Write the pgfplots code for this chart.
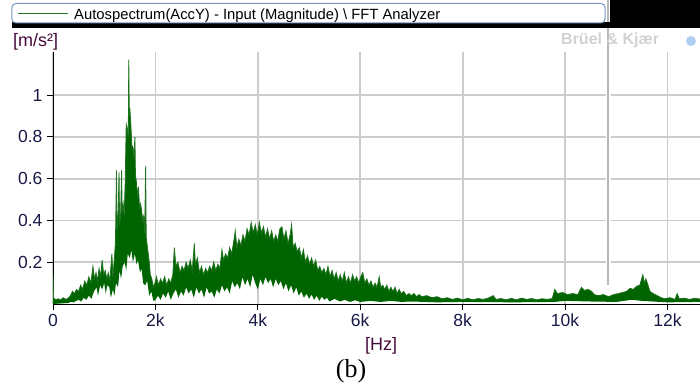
\documentclass[border=0pt]{standalone}
\usepackage{fontspec}
\setmainfont{Liberation Sans}
\newfontfamily\serif{Liberation Serif}
\usepackage{pgfplots}
\pgfplotsset{compat=1.18}
\usepackage{pgfplotstable}
\usepgfplotslibrary{fillbetween}

\definecolor{specfill}{RGB}{0,100,0}
\definecolor{specline}{RGB}{30,115,30}
\definecolor{gridgray}{RGB}{204,204,204}
\definecolor{tickcol}{RGB}{25,25,70}
\definecolor{labcol}{RGB}{70,12,60}
\definecolor{boxcol}{RGB}{120,150,190}
\definecolor{legline}{RGB}{40,120,40}
\definecolor{logoblue}{RGB}{175,205,240}

% upper envelope of the spectrum, f in kHz
\pgfplotstableread{
f a
0.00 0.14
0.01 0.03
0.05 0.02
0.10 0.025
0.15 0.02
0.20 0.03
0.25 0.022
0.30 0.028
0.34 0.04
0.38 0.06
0.42 0.05
0.46 0.07
0.50 0.06
0.54 0.09
0.58 0.07
0.62 0.11
0.66 0.09
0.70 0.13
0.74 0.10
0.78 0.18
0.81 0.12
0.84 0.15
0.87 0.11
0.90 0.17
0.93 0.13
0.96 0.21
0.99 0.14
1.02 0.16
1.05 0.12
1.08 0.15
1.11 0.11
1.15 0.24
1.17 0.13
1.20 0.22
1.22 0.30
1.24 0.64
1.25 0.36
1.27 0.40
1.29 0.63
1.30 0.38
1.32 0.42
1.34 0.64
1.35 0.44
1.37 0.48
1.39 0.42
1.41 0.58
1.43 0.86
1.45 0.84
1.47 0.80
1.48 1.17
1.49 0.90
1.50 0.94
1.52 0.86
1.54 0.76
1.56 0.75
1.58 0.70
1.60 0.80
1.61 0.62
1.63 0.58
1.65 0.52
1.67 0.56
1.69 0.46
1.71 0.48
1.73 0.45
1.75 0.40
1.77 0.42
1.79 0.34
1.81 0.66
1.82 0.32
1.84 0.28
1.86 0.24
1.88 0.20
1.90 0.14
1.93 0.12
1.96 0.08
1.99 0.10
2.02 0.13
2.06 0.09
2.10 0.12
2.14 0.10
2.18 0.13
2.22 0.09
2.26 0.12
2.30 0.10
2.34 0.14
2.37 0.27
2.40 0.18
2.44 0.20
2.48 0.15
2.52 0.18
2.56 0.16
2.60 0.20
2.64 0.17
2.68 0.21
2.72 0.16
2.76 0.29
2.78 0.19
2.82 0.22
2.86 0.15
2.90 0.18
2.94 0.14
2.98 0.17
3.02 0.15
3.06 0.18
3.10 0.16
3.14 0.20
3.18 0.16
3.22 0.19
3.26 0.17
3.30 0.26
3.33 0.21
3.37 0.24
3.41 0.22
3.45 0.27
3.49 0.24
3.53 0.30
3.56 0.35
3.59 0.27
3.63 0.31
3.67 0.28
3.71 0.33
3.75 0.30
3.79 0.36
3.83 0.33
3.87 0.39
3.91 0.34
3.95 0.38
3.99 0.33
4.03 0.39
4.07 0.34
4.11 0.37
4.15 0.32
4.19 0.36
4.23 0.31
4.27 0.35
4.31 0.30
4.35 0.33
4.39 0.30
4.43 0.36
4.47 0.37
4.51 0.31
4.55 0.35
4.59 0.29
4.63 0.33
4.66 0.38
4.69 0.27
4.73 0.29
4.77 0.25
4.81 0.27
4.85 0.22
4.89 0.26
4.93 0.20
4.97 0.23
5.01 0.19
5.05 0.22
5.09 0.18
5.13 0.21
5.17 0.16
5.21 0.18
5.25 0.15
5.29 0.17
5.33 0.14
5.37 0.18
5.41 0.13
5.45 0.16
5.49 0.12
5.53 0.15
5.57 0.11
5.61 0.14
5.65 0.11
5.69 0.15
5.73 0.10
5.77 0.13
5.81 0.10
5.85 0.14
5.89 0.11
5.93 0.13
5.97 0.10
6.01 0.13
6.05 0.15
6.09 0.10
6.13 0.12
6.17 0.09
6.21 0.11
6.25 0.08
6.29 0.10
6.33 0.08
6.37 0.13
6.40 0.08
6.44 0.09
6.48 0.07
6.52 0.09
6.56 0.06
6.60 0.08
6.64 0.06
6.68 0.08
6.72 0.05
6.76 0.07
6.80 0.05
6.85 0.06
6.90 0.04
6.95 0.05
7.00 0.04
7.05 0.05
7.10 0.035
7.15 0.045
7.20 0.035
7.30 0.04
7.40 0.03
7.50 0.035
7.60 0.025
7.70 0.03
7.80 0.022
7.90 0.028
8.00 0.02
8.10 0.027
8.20 0.02
8.30 0.026
8.40 0.022
8.50 0.028
8.60 0.04
8.65 0.022
8.75 0.026
8.85 0.02
8.95 0.027
9.05 0.02
9.15 0.028
9.25 0.022
9.35 0.026
9.45 0.02
9.55 0.025
9.65 0.022
9.75 0.026
9.80 0.07
9.85 0.05
9.95 0.055
10.05 0.045
10.15 0.05
10.25 0.045
10.32 0.08
10.38 0.065
10.45 0.07
10.52 0.06
10.57 0.045
10.65 0.04
10.75 0.045
10.85 0.035
10.95 0.045
11.05 0.05
11.12 0.055
11.20 0.06
11.27 0.075
11.33 0.07
11.40 0.085
11.46 0.09
11.52 0.14
11.55 0.10
11.58 0.12
11.62 0.09
11.66 0.06
11.72 0.05
11.80 0.04
11.88 0.03
11.95 0.025
12.05 0.03
12.15 0.022
12.19 0.05
12.23 0.025
12.33 0.028
12.43 0.022
12.53 0.027
12.64 0.024
}\spectop

% lower envelope
\pgfplotstableread{
f a
0.00 0.0
0.30 0.005
0.35 0.01
0.40 0.008
0.45 0.015
0.50 0.02
0.55 0.012
0.60 0.03
0.65 0.02
0.70 0.04
0.75 0.025
0.80 0.06
0.85 0.08
0.88 0.04
0.92 0.09
0.96 0.07
1.00 0.10
1.03 0.05
1.06 0.09
1.10 0.08
1.13 0.03
1.17 0.07
1.20 0.04
1.23 0.10
1.27 0.08
1.30 0.16
1.33 0.12
1.36 0.18
1.40 0.20
1.43 0.16
1.46 0.24
1.50 0.22
1.53 0.26
1.56 0.20
1.60 0.24
1.63 0.19
1.66 0.21
1.70 0.15
1.73 0.17
1.76 0.10
1.80 0.09
1.84 0.11
1.88 0.04
1.92 0.06
1.96 0.015
2.00 0.02
2.05 0.04
2.10 0.02
2.15 0.05
2.20 0.03
2.25 0.06
2.30 0.02
2.35 0.05
2.40 0.07
2.45 0.03
2.50 0.06
2.55 0.04
2.60 0.08
2.65 0.05
2.70 0.07
2.75 0.03
2.80 0.08
2.85 0.05
2.90 0.07
2.95 0.03
3.00 0.08
3.05 0.05
3.10 0.06
3.15 0.03
3.20 0.07
3.25 0.05
3.30 0.09
3.35 0.06
3.40 0.08
3.45 0.05
3.50 0.11
3.55 0.08
3.60 0.10
3.65 0.07
3.70 0.13
3.75 0.09
3.80 0.12
3.85 0.08
3.90 0.14
3.95 0.10
4.00 0.07
4.05 0.12
4.10 0.09
4.15 0.13
4.20 0.10
4.25 0.12
4.30 0.08
4.35 0.12
4.40 0.09
4.45 0.11
4.50 0.07
4.55 0.10
4.60 0.06
4.65 0.09
4.70 0.05
4.75 0.08
4.80 0.04
4.85 0.06
4.90 0.03
4.95 0.05
5.00 0.025
5.05 0.045
5.10 0.02
5.15 0.04
5.20 0.015
5.25 0.035
5.30 0.02
5.35 0.03
5.40 0.012
5.50 0.025
5.60 0.012
5.70 0.02
5.80 0.01
5.90 0.018
6.00 0.01
6.20 0.015
6.40 0.01
6.60 0.015
6.80 0.01
7.00 0.012
7.50 0.008
8.00 0.01
9.00 0.008
9.80 0.01
10.00 0.015
10.50 0.012
11.00 0.01
11.30 0.02
11.50 0.015
12.00 0.008
12.64 0.01
}\specbot

\begin{document}
\begin{tikzpicture}
\begin{axis}[
    scale only axis,
    width=647pt, height=252pt,
    xmin=0, xmax=12.636,
    ymin=0, ymax=1.206,
    axis lines*=left,
    axis line style={black, line width=1pt},
    xtick={0,2,4,6,8,10,12},
    xticklabels={0,2k,4k,6k,8k,10k,12k},
    ytick={0.2,0.4,0.6,0.8,1},
    yticklabels={0.2,0.4,0.6,0.8,1},
    tick align=outside,
    major tick length=6pt,
    tick style={black, line width=1pt},
    grid=major,
    major grid style={line width=1.8pt, color=gridgray},
    ticklabel style={font=\fontsize{17.5}{19}\selectfont, text=tickcol},
    xticklabel style={yshift=-0.5pt},
    yticklabel style={xshift=-1pt},
]
\addplot[name path=up, draw=none] table[x=f, y=a] {\spectop};
\addplot[name path=lo, draw=none] table[x=f, y=a] {\specbot};
\addplot[specfill] fill between[of=up and lo];
\addplot[specline, line width=0.8pt] table[x=f, y=a] {\spectop};
\end{axis}

% splitter on the right
\draw[white, line width=5pt] (555pt,304pt) -- (555pt,19pt);
\draw[gridgray!90!black, line width=2.6pt] (555pt,304pt) -- (555pt,19pt);

% header
\fill[black] (-41pt,281.5pt) rectangle (557pt,276pt);
\fill[black] (557pt,276pt) rectangle (647pt,304pt);
\draw[boxcol, fill=white, line width=1pt, rounded corners=4pt] (-41pt,300.5pt) rectangle (552pt,281pt);
\draw[legline, line width=1pt] (-35pt,290.7pt) -- (15pt,290.7pt);
\node[anchor=base west, inner sep=0pt, font=\fontsize{14.8}{16}\selectfont] at (21pt,284.7pt)
  {Autospectrum(AccY) - Input (Magnitude) \textbackslash{} FFT Analyzer};

% unit labels and watermark
\node[anchor=base west, inner sep=0pt, text=labcol, font=\fontsize{18}{20}\selectfont] at (-40pt,258pt) {[m/s²]};
\node[anchor=base west, inner sep=0pt, text=black!18, font=\fontsize{16}{18}\selectfont\bfseries] at (508pt,259pt) {Brüel \& Kjær};
\fill[logoblue] (638pt,263pt) circle (5pt);
\node[anchor=center, inner sep=0pt, text=labcol, font=\fontsize{18}{20}\selectfont] at (328pt,-42pt) {[Hz]};
\node[anchor=center, inner sep=0pt, font=\serif\fontsize{26}{28}\selectfont] at (298pt,-67pt) {(b)};

\pgfresetboundingbox
\path[use as bounding box] (-53pt,-85pt) rectangle (647pt,304pt);
\end{tikzpicture}
\end{document}
